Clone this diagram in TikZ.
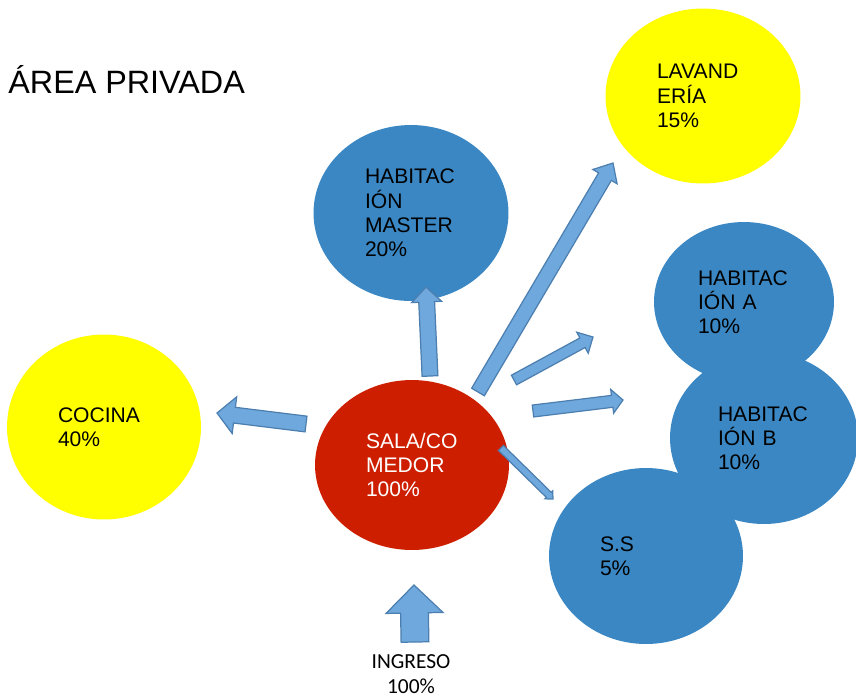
\documentclass[tikz,border=0pt]{standalone}
\usepackage{fontspec}
\setmainfont{Liberation Sans}
\newfontfamily\carlito{Carlito}
\usetikzlibrary{calc,shapes.geometric}
\definecolor{azul}{HTML}{3A87C3}
\definecolor{rojo}{HTML}{CD1F00}
\definecolor{amarillo}{HTML}{FFFF00}
\definecolor{flechafondo}{HTML}{6FA8DC}
\definecolor{flechaborde}{HTML}{4C7FAF}

% flecha de bloque: #1 cola, #2 punta, #3 medio ancho del cuerpo, #4 medio ancho de la punta, #5 largo de la punta
\newcommand{\flecha}[5]{%
  \coordinate (h) at ($(#2)!#5!(#1)$);
  \draw[flechabloque] ($(#1)!#3!90:(#2)$) -- ($(h)!#3!-90:(#1)$) -- ($(h)!#4!-90:(#1)$)
    -- (#2) -- ($(h)!#4!90:(#1)$) -- ($(h)!#3!90:(#1)$) -- ($(#1)!#3!-90:(#2)$) -- cycle;}

\begin{document}
\begin{tikzpicture}[
    x=0.02cm, y=-0.02cm,
    zona/.style={
        ellipse, inner sep=0pt, text width=1.84cm, align=left,
        font=\fontsize{12}{13.8}\selectfont
    },
    privada/.style={zona, fill=azul},
    servicio/.style={zona, fill=amarillo},
    social/.style={zona, fill=rojo, text=white},
    flechabloque/.style={fill=flechafondo, draw=flechaborde, line width=0.7pt, line join=miter}
]
\useasboundingbox (0,0) rectangle (856,698);

% titulo
\node[anchor=base west, font=\fontsize{18.4}{21}\selectfont, inner sep=0pt] (titulo) at (8,93) {ÁREA PRIVADA};

% zonas
\node[servicio, minimum width=3.9cm, minimum height=3.5cm] (lavanderia) at (703,96) {LAVAND\\ERÍA\\15\%};
\node[privada, minimum width=3.9cm, minimum height=3.52cm] (master) at (411,213) {HABITAC\\IÓN\\MASTER\\20\%};
\node[privada, minimum width=3.6cm, minimum height=3.2cm] (habA) at (744,302) {HABITAC\\IÓN A\\10\%};
\node[privada, minimum width=3.76cm, minimum height=3.44cm] (habB) at (764,438) {HABITAC\\IÓN B\\10\%};
\node[privada, minimum width=3.88cm, minimum height=3.52cm] (ss) at (646,556) {S.S\\5\%};
\node[servicio, minimum width=3.88cm, minimum height=3.7cm] (cocina) at (104,427) {COCINA\\40\%};
\node[social, minimum width=3.88cm, minimum height=3.4cm] (sala) at (412,465) {SALA/CO\\MEDOR\\100\%};

% puntos de las flechas
\coordinate (c1) at (306,424); \coordinate (c2) at (217,413);
\coordinate (m1) at (430,376); \coordinate (m2) at (426,287);
\coordinate (l1) at (478,392); \coordinate (l2) at (613,163);
\coordinate (a1) at (514,380); \coordinate (a2) at (593,337);
\coordinate (b1) at (533,411); \coordinate (b2) at (623,400);
\coordinate (s1) at (501,448); \coordinate (s2) at (553,499);
\coordinate (i1) at (415,642); \coordinate (i2) at (414,585);

% flechas
\flecha{c1}{c2}{4.5pt}{10.5pt}{10pt}
\flecha{m1}{m2}{4.5pt}{8.5pt}{8.5pt}
\flecha{l1}{l2}{4.2pt}{8pt}{9pt}
\flecha{a1}{a2}{3.1pt}{6.8pt}{6.8pt}
\flecha{b1}{b2}{3.4pt}{6.8pt}{6.2pt}
\flecha{s1}{s2}{2pt}{3.2pt}{3.4pt}
\flecha{i1}{i2}{7.9pt}{16.2pt}{15.9pt}

% ingreso
\node[font=\carlito\fontsize{12.2}{14.2}\selectfont, align=center, inner sep=0pt, anchor=north] (ingreso) at (411,654) {INGRESO\\100\%};

\end{tikzpicture}
\end{document}
